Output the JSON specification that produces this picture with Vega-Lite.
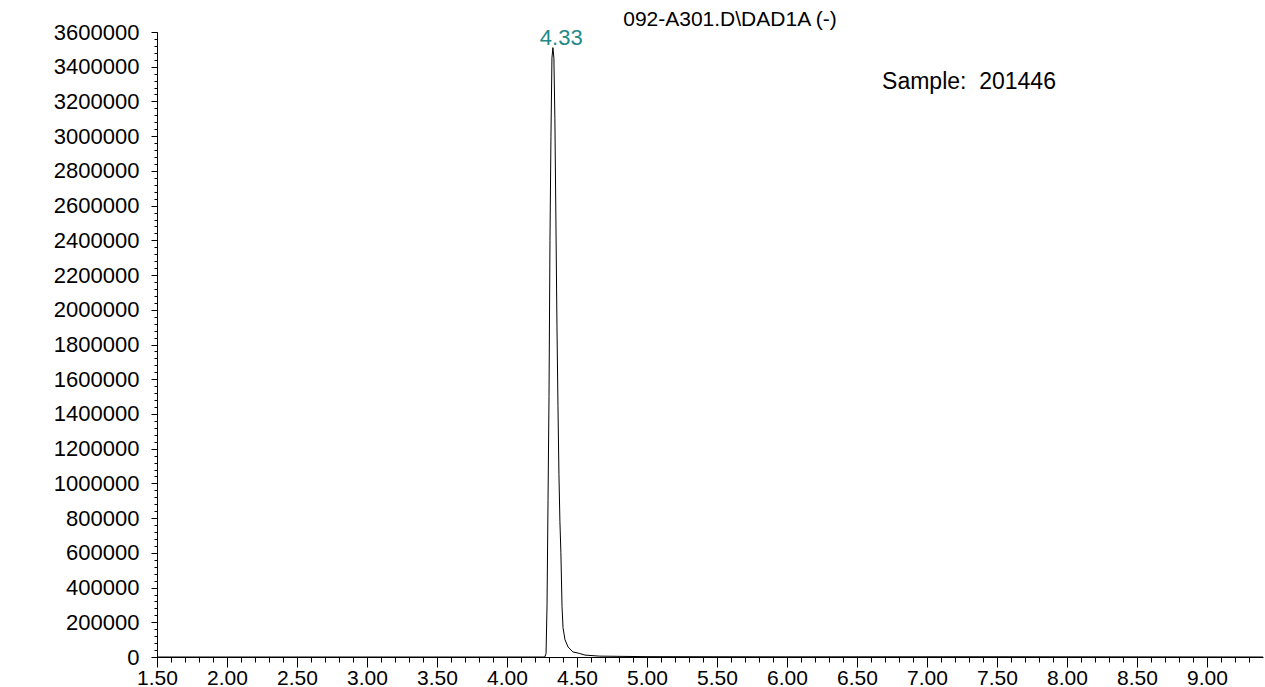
{
  "$schema": "https://vega.github.io/schema/vega-lite/v6.json",
  "width": 1106,
  "height": 625,
  "autosize": "none",
  "padding": {"left": 157, "top": 32, "right": 2, "bottom": 30},
  "background": "white",
  "config": {
    "view": {"stroke": null},
    "axis": {
      "grid": false,
      "domainColor": "black",
      "tickColor": "black",
      "labelColor": "black",
      "labelFont": "Liberation Sans",
      "labelFontSize": 22,
      "domainWidth": 1,
      "tickWidth": 1
    }
  },
  "title": {
    "text": "092-A301.D\\DAD1A (-)",
    "font": "Liberation Sans",
    "fontSize": 21,
    "fontWeight": "normal",
    "color": "black",
    "anchor": "middle",
    "frame": "group",
    "dx": 20,
    "offset": -9
  },
  "datasets": {
    "trace": [
      {"t": 1.5, "v": 0},
      {"t": 3.0, "v": 0},
      {"t": 4.0, "v": 0},
      {"t": 4.27, "v": 0},
      {"t": 4.279, "v": 20000},
      {"t": 4.286, "v": 300000},
      {"t": 4.293, "v": 900000},
      {"t": 4.3, "v": 1500000},
      {"t": 4.307, "v": 2400000},
      {"t": 4.314, "v": 3000000},
      {"t": 4.321, "v": 3450000},
      {"t": 4.328, "v": 3510000},
      {"t": 4.335, "v": 3450000},
      {"t": 4.342, "v": 3100000},
      {"t": 4.35, "v": 2460000},
      {"t": 4.357, "v": 1900000},
      {"t": 4.364, "v": 1450000},
      {"t": 4.371, "v": 1050000},
      {"t": 4.378, "v": 780000},
      {"t": 4.385, "v": 600000},
      {"t": 4.393, "v": 290000},
      {"t": 4.4, "v": 170000},
      {"t": 4.414, "v": 100000},
      {"t": 4.436, "v": 58000},
      {"t": 4.471, "v": 29000},
      {"t": 4.5, "v": 24000},
      {"t": 4.52, "v": 20000},
      {"t": 4.557, "v": 11000},
      {"t": 4.66, "v": 5000},
      {"t": 5.0, "v": 2000},
      {"t": 6.0, "v": 1000},
      {"t": 7.5, "v": 1500},
      {"t": 9.4, "v": 0}
    ],
    "peak": [{"t": 4.33, "v": 3510000, "label": "4.33"}],
    "sample": [{"t": 7.3, "v": 3312000, "label": "Sample:\u00a0 201446"}]
  },
  "resolve": {"scale": {"x": "shared", "y": "shared"}, "axis": {"x": "independent", "y": "independent"}},
  "layer": [
    {
      "data": {"name": "trace"},
      "mark": {"type": "line", "color": "black", "strokeWidth": 1, "clip": true},
      "encoding": {
        "x": {
          "field": "t", "type": "quantitative",
          "scale": {"domain": [1.5, 9.4], "nice": false, "zero": false},
          "axis": {
            "title": null, "orient": "bottom", "format": ".2f",
            "values": [1.5, 2.0, 2.5, 3.0, 3.5, 4.0, 4.5, 5.0, 5.5, 6.0, 6.5, 7.0, 7.5, 8.0, 8.5, 9.0],
            "tickSize": 10, "labelPadding": 0, "labelFontSize": 21, "labelFlush": false, "labelOverlap": false
          }
        },
        "y": {
          "field": "v", "type": "quantitative",
          "scale": {"domain": [0, 3600000], "nice": false},
          "axis": {
            "title": null, "orient": "left", "format": "d",
            "values": [0, 200000, 400000, 600000, 800000, 1000000, 1200000, 1400000, 1600000, 1800000, 2000000, 2200000, 2400000, 2600000, 2800000, 3000000, 3200000, 3400000, 3600000],
            "tickSize": 6, "labelPadding": 12, "labelFlush": false, "labelOverlap": false
          }
        }
      }
    },
    {
      "data": {"name": "peak"},
      "mark": {"type": "text", "color": "#1f8a8a", "font": "Liberation Sans", "fontSize": 22, "baseline": "bottom", "align": "center", "dx": 8, "dy": 2},
      "encoding": {
        "x": {
          "field": "t", "type": "quantitative",
          "axis": {
            "title": null, "orient": "bottom", "labels": false, "domain": false, "tickSize": 5,
            "values": [1.5, 1.6, 1.7, 1.8, 1.9, 2.0, 2.1, 2.2, 2.3, 2.4, 2.5, 2.6, 2.7, 2.8, 2.9, 3.0, 3.1, 3.2, 3.3, 3.4, 3.5, 3.6, 3.7, 3.8, 3.9, 4.0, 4.1, 4.2, 4.3, 4.4, 4.5, 4.6, 4.7, 4.8, 4.9, 5.0, 5.1, 5.2, 5.3, 5.4, 5.5, 5.6, 5.7, 5.8, 5.9, 6.0, 6.1, 6.2, 6.3, 6.4, 6.5, 6.6, 6.7, 6.8, 6.9, 7.0, 7.1, 7.2, 7.3, 7.4, 7.5, 7.6, 7.7, 7.8, 7.9, 8.0, 8.1, 8.2, 8.3, 8.4, 8.5, 8.6, 8.7, 8.8, 8.9, 9.0, 9.1, 9.2, 9.3]
          }
        },
        "y": {
          "field": "v", "type": "quantitative",
          "axis": {
            "title": null, "orient": "left", "labels": false, "domain": false, "tickSize": 3,
            "values": [0, 40000, 80000, 120000, 160000, 200000, 240000, 280000, 320000, 360000, 400000, 440000, 480000, 520000, 560000, 600000, 640000, 680000, 720000, 760000, 800000, 840000, 880000, 920000, 960000, 1000000, 1040000, 1080000, 1120000, 1160000, 1200000, 1240000, 1280000, 1320000, 1360000, 1400000, 1440000, 1480000, 1520000, 1560000, 1600000, 1640000, 1680000, 1720000, 1760000, 1800000, 1840000, 1880000, 1920000, 1960000, 2000000, 2040000, 2080000, 2120000, 2160000, 2200000, 2240000, 2280000, 2320000, 2360000, 2400000, 2440000, 2480000, 2520000, 2560000, 2600000, 2640000, 2680000, 2720000, 2760000, 2800000, 2840000, 2880000, 2920000, 2960000, 3000000, 3040000, 3080000, 3120000, 3160000, 3200000, 3240000, 3280000, 3320000, 3360000, 3400000, 3440000, 3480000, 3520000, 3560000, 3600000]
          }
        },
        "text": {"field": "label"}
      }
    },
    {
      "data": {"name": "sample"},
      "mark": {"type": "text", "color": "black", "font": "Liberation Sans", "fontSize": 23, "baseline": "middle", "align": "center"},
      "encoding": {
        "x": {"field": "t", "type": "quantitative", "axis": null},
        "y": {"field": "v", "type": "quantitative", "axis": null},
        "text": {"field": "label"}
      }
    }
  ]
}
